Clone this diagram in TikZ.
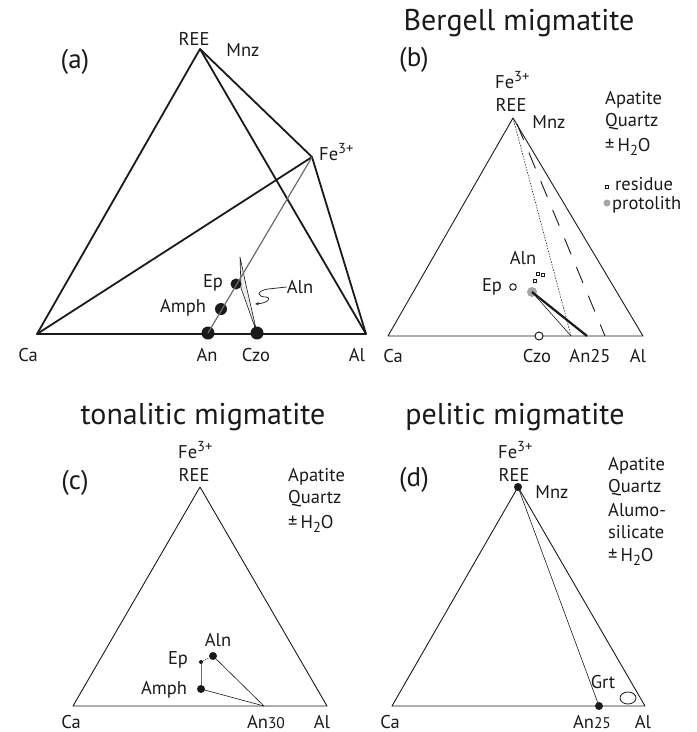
\documentclass[tikz,border=0pt]{standalone}
\usepackage{fontspec}
\setmainfont{PT Sans}
\usepackage{tikz}
\usetikzlibrary{arrows.meta}
\definecolor{cInk}{HTML}{1A1A1A}
\definecolor{cGray}{HTML}{6B6B6B}
\definecolor{cProto}{HTML}{A6A6A6}
\definecolor{cSliver}{HTML}{ECECEC}
\tikzset{
  lbl/.style={font=\fontsize{18.5}{22}\selectfont,inner sep=0pt,text=cInk},
  side/.style={lbl,anchor=west},
  foot/.style={lbl,anchor=base},
  ttl/.style={font=\fontsize{30}{36}\selectfont,inner sep=0pt,text=cInk},
  plab/.style={font=\fontsize{27}{32}\selectfont,inner sep=0pt,text=cInk},
  bigdot/.style={circle,fill=cInk,inner sep=0pt,minimum size=#1},
  bigdot/.default=8pt,
  opendot/.style={circle,draw=cInk,fill=white,line width=1pt,inner sep=0pt,minimum size=#1},
  opendot/.default=7pt,
  rsq/.style={rectangle,draw=cInk,fill=white,line width=0.7pt,inner sep=0pt,minimum size=3.6pt},
  thick edge/.style={line width=1.8pt,cInk,line join=round},
  edge/.style={line width=0.9pt,cInk,line join=round},
  thin edge/.style={line width=0.6pt,cInk},
}
\newcommand{\feiii}{Fe\raisebox{0.42em}{\fontsize{14.5}{17}\selectfont 3+}}
\newcommand{\htwoo}{±\,H\raisebox{-0.22em}{\fontsize{14.5}{17}\selectfont 2}O}
\newcommand{\smalldig}[1]{{\fontsize{15.5}{18}\selectfont #1}}
\begin{document}
\begin{tikzpicture}[x=1pt,y=-1pt]
  \useasboundingbox (0,0) rectangle (697,732);
  % ---------- (a) tetrahedron ----------
  \coordinate (aTop) at (200,49);
  \coordinate (aFe)  at (312,157);
  \coordinate (aCa)  at (37,334);
  \coordinate (aAl)  at (366,334);
  \draw[thick edge] (aCa) -- (aTop) -- (aAl) -- cycle;
  \draw[thick edge] (aCa) -- (aFe) -- (aAl);
  \draw[thick edge] (aTop) -- (aFe);
  % allanite sliver
  \filldraw[fill=cSliver,draw=cInk,line width=0.6pt] (240,257) -- (246,285) -- (257,333) -- (241,288) -- cycle;
  \node[bigdot=13pt] (aAn)   at (208,333) {};
  \node[bigdot=13pt] (aCzo)  at (257,333) {};
  \node[bigdot=12pt] (aAmph) at (221,309) {};
  \node[bigdot=11pt] (aEp)   at (236,284) {};
  \draw[cGray,line width=1.2pt] (aAn.center) -- (aFe);
  \node[plab] (aPan) at (75,62) {(a)};
  \node[lbl] (aREE) at (194,39) {REE};
  \node[lbl] (aMnz) at (243,50) {Mnz};
  \node[lbl,anchor=west] (aFeL) at (319,152) {\feiii};
  \node[lbl] (aEpL) at (213,283) {Ep};
  \node[lbl] (aAmphL) at (183,308) {Amph};
  \node[lbl] (aAlnL) at (300,287) {Aln};
  \draw[cInk,line width=0.7pt,-{Stealth[length=4pt,width=3pt]}] (aAlnL.west) -- (268,289)
    .. controls (256,291) and (257,297) .. (266,297) .. controls (272,298) and (268,303) .. (255,304);
  \node[foot] (aCaL) at (28,361) {Ca};
  \node[foot] (aAnL) at (207,361) {An};
  \node[foot] (aCzoL) at (256,361) {Czo};
  \node[foot] (aAlL) at (357,361) {Al};
  % ---------- (b) Bergell ----------
  \coordinate (bTop) at (513,118);
  \coordinate (bCa)  at (388,336);
  \coordinate (bAl)  at (643,336);
  \coordinate (bDot) at (571,336);
  \coordinate (bAnp) at (587,336);
  \draw[edge] (bCa) -- (bTop) -- (bAl) -- cycle;
  \draw[thin edge,dash pattern=on 1.4pt off 1.4pt] (bTop) -- (bDot);
  \draw[edge,dash pattern=on 17pt off 14pt] (517,124) -- (605,336);
  \node[circle,fill=cProto,inner sep=0pt,minimum size=10pt] (bProto) at (532,292) {};
  \draw[thin edge] (bProto.center) -- (bDot);
  \draw[cInk,line width=2.2pt] (bProto.center) -- (bAnp);
  \node[opendot=8pt] (bCzo) at (539,336) {};
  \node[opendot=6.5pt] (bEp) at (513,287) {};
  \node[rsq] (bRes1) at (535,281) {};
  \node[rsq] (bRes2) at (538,274) {};
  \node[rsq] (bRes3) at (543,275) {};
  \node[ttl] (bTitle) at (519,23) {Bergell migmatite};
  \node[plab] (bPan) at (414,60) {(b)};
  \node[lbl,anchor=west] (bFeL) at (495,80) {\feiii};
  \node[lbl] (bREE) at (511,105) {REE};
  \node[lbl] (bMnz) at (549,122) {Mnz};
  \node[side] (bApa) at (605,100) {Apatite};
  \node[side] (bQtz) at (605,122) {Quartz};
  \node[side] (bH2O) at (605,147) {\htwoo};
  \node[rsq] (bKeyRes) at (607,187) {};
  \node[side,anchor=base west] (bResL) at (615,190) {residue};
  \node[circle,fill=cProto,inner sep=0pt,minimum size=7pt] (bKeyPro) at (607,203) {};
  \node[side,anchor=base west] (bProL) at (612,209) {protolith};
  \node[lbl] (bAlnL) at (523,258) {Aln};
  \node[lbl] (bEpL) at (492,287) {Ep};
  \node[foot] (bCaL) at (393,362) {Ca};
  \node[foot] (bCzoL) at (537,362) {Czo};
  \node[foot] (bAnL) at (590,362) {An25};
  \node[foot] (bAlL) at (638,362) {Al};
  % ---------- (c) tonalitic ----------
  \coordinate (cTop) at (200,487);
  \coordinate (cCa)  at (73,706);
  \coordinate (cAl)  at (327,706);
  \coordinate (cAnp) at (264,706);
  \draw[edge] (cCa) -- (cTop) -- (cAl) -- cycle;
  \node[bigdot=8pt] (cAln)  at (213,656) {};
  \node[bigdot=4pt] (cEp)   at (201,662) {};
  \node[bigdot=8pt] (cAmph) at (201,689) {};
  \draw[thin edge] (cAln.center) -- (cAnp);
  \draw[thin edge] (cAmph.center) -- (cAnp);
  \draw[cGray,line width=0.8pt] (cEp) -- (cAmph);
  \draw[thin edge,dash pattern=on 1.2pt off 1.2pt] (cEp) -- (cAln);
  \node[ttl] (cTitle) at (203,417) {tonalitic migmatite};
  \node[plab] (cPan) at (75,483) {(c)};
  \node[lbl,anchor=west] (cFeL) at (178,450) {\feiii};
  \node[lbl] (cREE) at (194,475) {REE};
  \node[side] (cApa) at (288,477) {Apatite};
  \node[side] (cQtz) at (288,499) {Quartz};
  \node[side] (cH2O) at (288,524) {\htwoo};
  \node[lbl] (cAlnL) at (218,640) {Aln};
  \node[lbl] (cEpL) at (178,660) {Ep};
  \node[lbl] (cAmphL) at (164,690) {Amph};
  \node[foot] (cCaL) at (71,728) {Ca};
  \node[foot] (cAnL) at (266,728) {An\smalldig{30}};
  \node[foot] (cAlL) at (322,728) {Al};
  % ---------- (d) pelitic ----------
  \coordinate (dCa) at (392,706);
  \coordinate (dAl) at (645,706);
  \node[bigdot=8pt] (dTop) at (518,487) {};
  \node[bigdot=8pt] (dAnp) at (599,706) {};
  \draw[edge] (dCa) -- (dTop.center) -- (dAl) -- cycle;
  \draw[thin edge] (dTop.center) -- (dAnp.center);
  \draw[cInk,fill=white,line width=0.8pt] (628,698) ellipse [x radius=8pt,y radius=6pt];
  \node[ttl] (dTitle) at (515,417) {pelitic migmatite};
  \node[plab] (dPan) at (414,480) {(d)};
  \node[lbl,anchor=west] (dFeL) at (498,450) {\feiii};
  \node[lbl] (dREE) at (514,475) {REE};
  \node[lbl] (dMnz) at (552,492) {Mnz};
  \node[side] (dApa) at (608,466) {Apatite};
  \node[side] (dQtz) at (608,488) {Quartz};
  \node[side] (dAlu) at (608,510) {Alumo-};
  \node[side] (dSil) at (608,532) {silicate};
  \node[side] (dH2O) at (608,557) {\htwoo};
  \node[lbl] (dGrtL) at (603,682) {Grt};
  \node[foot] (dCaL) at (390,728) {Ca};
  \node[foot] (dAnL) at (592,728) {An\smalldig{25}};
  \node[foot] (dAlL) at (643,728) {Al};
\end{tikzpicture}
\end{document}
